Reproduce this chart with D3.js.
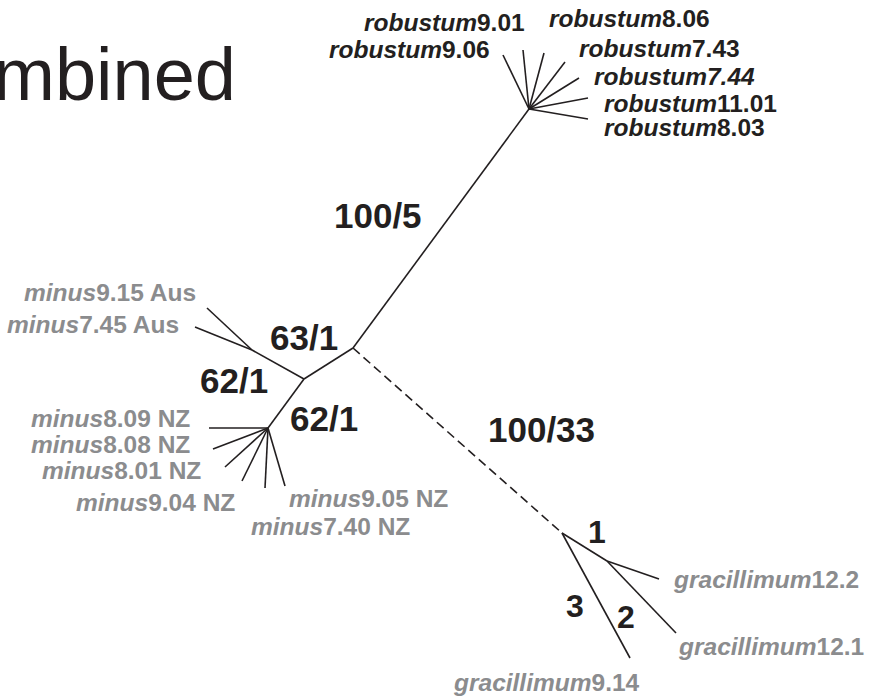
<!DOCTYPE html>
<html>
<head>
<meta charset="utf-8">
<script src="https://cdn.jsdelivr.net/npm/d3@7"></script>
<style>
  html, body { margin: 0; padding: 0; background: #fff; }
  svg { display: block; }
</style>
</head>
<body>
<div id="chart"></div>
<script>
// ---------- DATA (tree-space units) ----------
const title = "Combined";

// internal nodes
const internalIds = ["C", "R", "A", "M", "N", "G", "G2"];
const internalX   = [35.3, 52.9, 25.2, 30.4, 26.8, 56.2, 60.7];
const internalY   = [34.8, 10.9, 35.0, 37.9, 42.8, 53.3, 56.1];

// leaves
const leafIds     = ["r901","r906","r806","r743","r744","r1101","r803",
                     "m915","m745","m809","m808","m801","m904","m905","m740",
                     "g122","g121","g914"];
const leafParent  = ["R","R","R","R","R","R","R",
                     "A","A","N","N","N","N","N","N",
                     "G2","G2","G"];
const leafX       = [52.3, 50.3, 54.4, 56.5, 57.9, 58.8, 58.8,
                     20.7, 19.5, 20.9, 21.3, 22.5, 24.2, 28.5, 26.5,
                     65.9, 67.6, 63.0];
const leafY       = [ 5.0,  5.5,  5.3,  6.2,  7.8,  9.8, 11.9,
                     30.8, 32.7, 42.8, 44.9, 46.7, 48.1, 48.6, 48.8,
                     57.9, 63.3, 65.8];

// leaf labels
const leafSpecies = ["robustum","robustum","robustum","robustum","robustum","robustum","robustum",
                     "minus","minus","minus","minus","minus","minus","minus","minus",
                     "gracillimum","gracillimum","gracillimum"];
const leafCode    = ["9.01","9.06","8.06","7.43","7.44","11.01","8.03",
                     "9.15","7.45","8.09","8.08","8.01","9.04","9.05","7.40",
                     "12.2","12.1","9.14"];
const leafSuffix  = ["","","","","","","",
                     " Aus"," Aus"," NZ"," NZ"," NZ"," NZ"," NZ"," NZ",
                     "","",""];
const leafCodeItalic = [false,false,false,false,true,false,false,
                        false,false,false,false,false,false,false,false,
                        false,false,false];
const labelX      = [36.4, 32.9, 54.9, 57.9, 59.4, 60.4, 60.4,
                      2.4,  0.7,  3.1,  3.1,  4.2,  7.6, 28.9, 25.1,
                     67.4, 67.9, 45.4];
const labelY      = [ 3.1,  5.8,  2.7,  5.7,  8.5, 11.2, 13.6,
                     30.1, 33.3, 42.7, 45.3, 47.9, 51.1, 50.7, 53.5,
                     58.8, 65.5, 69.1];

// internal branches: [from, to, dashed]
const branchFrom   = ["C","C","M","M","C","G"];
const branchTo     = ["R","M","A","N","G","G2"];
const branchDashed = [false,false,false,false,true,false];

// support values
const supportText  = ["100/5","63/1","62/1","62/1","100/33","1","3","2"];
const supportX     = [33.4, 27.0, 20.0, 29.0, 48.8, 58.8, 56.6, 61.7];
const supportY     = [22.8, 35.0, 39.3, 43.1, 44.2, 54.3, 61.7, 62.8];
const supportBig   = [true,true,true,true,true,false,false,false];

// ---------- DRAW ----------
const W = 874, H = 700;
const x = d3.scaleLinear().domain([0, 87.4]).range([0, W]);
const y = d3.scaleLinear().domain([0, 70]).range([0, H]);

const black = "#231f20", grey = "#8b8c8e";
const font = "'Liberation Sans', Arial, Helvetica, sans-serif";

const svg = d3.select("#chart").append("svg")
  .attr("width", W).attr("height", H)
  .attr("viewBox", `0 0 ${W} ${H}`);
svg.append("rect").attr("width", W).attr("height", H).attr("fill", "#fff");

const pos = {};
internalIds.forEach((id, i) => pos[id] = [internalX[i], internalY[i]]);
leafIds.forEach((id, i) => pos[id] = [leafX[i], leafY[i]]);

// title (partially cut off at the left edge, as in the source figure)
svg.append("text")
  .attr("x", x(23.6)).attr("y", y(10.0))
  .attr("text-anchor", "end")
  .attr("font-family", font).attr("font-size", 74)
  .attr("fill", black)
  .text(title);

// edges
const edges = [];
branchFrom.forEach((f, i) => edges.push({ from: f, to: branchTo[i], dashed: branchDashed[i] }));
leafIds.forEach((id, i) => edges.push({ from: leafParent[i], to: id, dashed: false }));

svg.append("g").selectAll("line").data(edges).join("line")
  .attr("x1", d => x(pos[d.from][0])).attr("y1", d => y(pos[d.from][1]))
  .attr("x2", d => x(pos[d.to][0])).attr("y2", d => y(pos[d.to][1]))
  .attr("stroke", black).attr("stroke-width", 1.6)
  .attr("stroke-linecap", "butt")
  .attr("stroke-dasharray", d => d.dashed ? "9,5" : null);

// leaf labels
const lab = svg.append("g").selectAll("text").data(leafIds).join("text")
  .attr("x", (d, i) => x(labelX[i])).attr("y", (d, i) => y(labelY[i]))
  .attr("font-family", font).attr("font-size", 24.5).attr("font-weight", "bold")
  .attr("fill", (d, i) => leafSpecies[i] === "robustum" ? black : grey);
lab.append("tspan").attr("font-style", "italic").text((d, i) => leafSpecies[i]);
lab.append("tspan").attr("font-style", (d, i) => leafCodeItalic[i] ? "italic" : "normal")
  .text((d, i) => leafCode[i] + leafSuffix[i]);

// support values
svg.append("g").selectAll("text").data(supportText).join("text")
  .attr("x", (d, i) => x(supportX[i])).attr("y", (d, i) => y(supportY[i]))
  .attr("font-family", font).attr("font-weight", "bold")
  .attr("font-size", (d, i) => supportBig[i] ? 35 : 32)
  .attr("fill", black)
  .text(d => d);
</script>
</body>
</html>
